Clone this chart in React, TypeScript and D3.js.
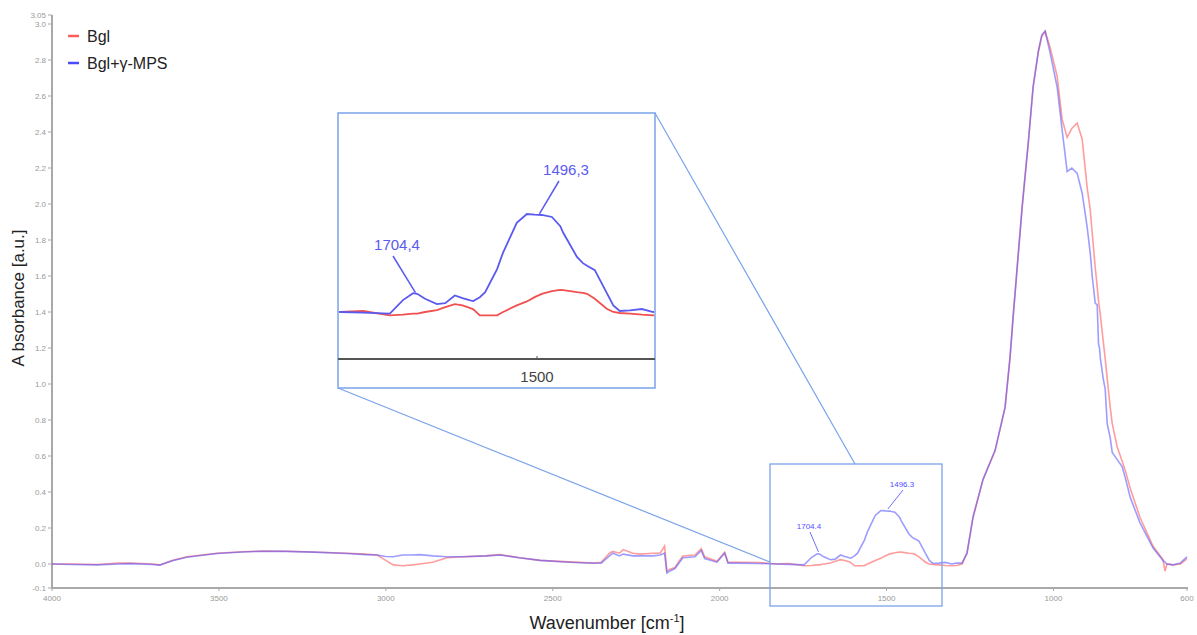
import React from "react";
import * as d3 from "d3";

// ---- data ----
const wavenumbers = [
  4000, 3940, 3865, 3800, 3766, 3700, 3677, 3640, 3596, 3506, 3430, 3368, 3300, 3218, 3116, 3060, 3026, 3000,
  2978, 2950, 2920, 2898, 2860, 2817, 2770, 2700, 2658, 2600, 2538, 2450, 2380, 2355, 2330, 2320, 2300, 2289,
  2260, 2238, 2200, 2178, 2165, 2158, 2150, 2134, 2120, 2110, 2074, 2055, 2045, 2008, 1985, 1975, 1950, 1880,
  1830, 1792, 1747, 1725, 1708, 1701, 1688, 1668, 1654, 1638, 1625, 1612, 1607, 1596, 1587, 1567, 1557, 1534,
  1517, 1504, 1492, 1475, 1461, 1456, 1433, 1423, 1416, 1403, 1383, 1372, 1361, 1344, 1324, 1305, 1290, 1274,
  1259, 1241, 1211, 1175, 1145, 1130, 1121, 1094, 1075, 1061, 1045, 1035, 1025, 1010, 989, 974, 959, 945, 929,
  914, 899, 890, 884, 875, 869, 865, 862, 860, 851, 845, 839, 830, 824, 809, 794, 785, 770, 741, 702, 672, 666,
  660, 642, 620, 606, 600,
];
const bgl = [
  0.0, 0.0, -0.003, 0.005, 0.006, 0.0, -0.005, 0.02, 0.04, 0.06, 0.068, 0.072, 0.071, 0.067, 0.06, 0.055, 0.05, 0.02,
  -0.005, -0.01, -0.005, 0.0, 0.01, 0.035, 0.04, 0.045, 0.052, 0.035, 0.02, 0.012, 0.006, 0.01, 0.06, 0.07, 0.06, 0.08,
  0.06, 0.055, 0.06, 0.06, 0.1, -0.04, -0.03, -0.02, 0.02, 0.045, 0.05, 0.085, 0.04, 0.015, 0.065, 0.01, 0.01, 0.008,
  0.0, 0.003, -0.01, -0.008, -0.005, -0.005, 0.0, 0.006, 0.015, 0.024, 0.02, 0.012, 0.008, -0.01, -0.01, -0.01, 0.0, 0.02,
  0.032, 0.045, 0.055, 0.063, 0.067, 0.066, 0.06, 0.058, 0.055, 0.04, 0.01, 0.0, -0.003, -0.005, -0.008, -0.01, -0.008, 0.0,
  0.06, 0.26, 0.47, 0.63, 0.87, 1.15, 1.37, 1.98, 2.35, 2.65, 2.85, 2.93, 2.96, 2.87, 2.71, 2.47, 2.37, 2.42, 2.45,
  2.36, 2.09, 1.97, 1.84, 1.65, 1.54, 1.46, 1.42, 1.39, 1.24, 1.14, 1.03, 0.87, 0.78, 0.65, 0.57, 0.52, 0.42, 0.26, 0.1, 0.025, -0.04,
  0.0, -0.005, 0.0, 0.02, 0.03,
];
const bglMps = [
  0.0, -0.003, -0.005, 0.0, 0.002, -0.003, -0.006, 0.018, 0.038, 0.058, 0.067, 0.071, 0.07, 0.066, 0.058, 0.052, 0.05, 0.042,
  0.04, 0.05, 0.05, 0.052, 0.045, 0.04, 0.04, 0.045, 0.05, 0.035, 0.02, 0.01, 0.004, 0.005, 0.045, 0.06, 0.045, 0.055,
  0.045, 0.045, 0.045, 0.05, 0.06, -0.05, -0.04, -0.025, 0.01, 0.035, 0.04, 0.075, 0.03, 0.01, 0.06, 0.005, 0.005, 0.003,
  0.0, -0.002, -0.005, 0.036, 0.057, 0.055, 0.04, 0.024, 0.027, 0.05, 0.042, 0.035, 0.033, 0.045, 0.06, 0.13, 0.18, 0.27,
  0.297, 0.295, 0.294, 0.288, 0.26, 0.24, 0.167, 0.148, 0.14, 0.127, 0.058, 0.02, 0.003, 0.005, 0.009, 0.0, 0.005, 0.005,
  0.06, 0.26, 0.47, 0.63, 0.87, 1.15, 1.37, 1.98, 2.35, 2.65, 2.85, 2.94, 2.96, 2.84, 2.65, 2.41, 2.18, 2.2, 2.17,
  2.06, 1.87, 1.73, 1.6, 1.45, 1.44, 1.22, 1.2, 1.15, 1.03, 0.97, 0.78, 0.7, 0.62, 0.58, 0.54, 0.48, 0.37, 0.23, 0.09, 0.02, 0.01,
  0.0, -0.005, 0.005, 0.03, 0.04,
];
const xTicks = [4000, 3500, 3000, 2500, 2000, 1500, 1000, 600];
const yTicks = [0, 0.2, 0.4, 0.6, 0.8, 1.0, 1.2, 1.4, 1.6, 1.8, 2.0, 2.2, 2.4, 2.6, 2.8, 3.0];
const yEndLabels = [
  { v: -0.1333, label: "-0.1" },
  { v: 3.05, label: "3.05" },
];
const seriesNames = ["Bgl", "Bgl+γ-MPS"];
const peakLabels = [
  { wn: 1704, main: "1704.4", inset: "1704,4" },
  { wn: 1496, main: "1496.3", inset: "1496,3" },
];
const insetTick = [1500];

export default function App() {
  const W = 1197, H = 635;
  const x = d3.scaleLinear().domain([4000, 600]).range([52, 1187]);
  const y = d3.scaleLinear().domain([-0.1333, 3.05]).range([588, 15]);

  const pts = (vals: number[]) => wavenumbers.map((w, i) => [w, vals[i]] as [number, number]);
  const mainLine = d3.line<[number, number]>().x((d) => x(d[0])).y((d) => y(d[1]));

  // inset
  const ix = d3.scaleLinear().domain([1834, 1302]).range([338, 655]);
  const iy = d3.scaleLinear().domain([-0.1424, 0.603]).range([359, 113]);
  const insetLine = d3.line<[number, number]>().x((d) => ix(d[0])).y((d) => iy(d[1]));

  const red = "#ff4d4d";
  const blue = "#4d4dff";
  const axisCol = "#a9a9a9";
  const font = "Liberation Sans, Arial, sans-serif";

  const valAt = (vals: number[], wn: number) => {
    const xs = wavenumbers.map((w) => -w);
    const i = d3.bisectLeft(xs, -wn);
    const i0 = Math.max(0, i - 1);
    const t = (wn - wavenumbers[i0]) / (wavenumbers[i] - wavenumbers[i0]);
    return vals[i0] + t * (vals[i] - vals[i0]);
  };

  const box = { x0: 770, x1: 942, y0: 464, y1: 606 };

  return (
    <svg width={W} height={H} style={{ position: "absolute", left: 0, top: 0, fontFamily: font }}>
      <rect width={W} height={H} fill="#fff" />
      {/* axes */}
      <line x1={52} x2={52} y1={15} y2={589} stroke={axisCol} strokeWidth={2} />
      <line x1={51} x2={1188} y1={588} y2={588} stroke={axisCol} strokeWidth={2} />
      {yTicks.map((t) => (
        <g key={t}>
          <line x1={48} x2={52} y1={y(t)} y2={y(t)} stroke={axisCol} />
          <text x={46} y={y(t) + 3} fontSize={8} fill="#999" textAnchor="end">
            {t.toFixed(1)}
          </text>
        </g>
      ))}
      {yEndLabels.map((e) => (
        <g key={e.label}>
          <line x1={48} x2={52} y1={y(e.v)} y2={y(e.v)} stroke={axisCol} />
          <text x={46} y={y(e.v) + 3} fontSize={8} fill="#999" textAnchor="end">
            {e.label}
          </text>
        </g>
      ))}
      {xTicks.map((t) => (
        <g key={t}>
          <line x1={x(t)} x2={x(t)} y1={588} y2={591} stroke={axisCol} />
          <text x={x(t)} y={601} fontSize={8} fill="#999" textAnchor="middle">
            {t}
          </text>
        </g>
      ))}
      <text transform="translate(24,298) rotate(-90)" fontSize={17} fill="#222" textAnchor="middle">
        A bsorbance [a.u.]
      </text>
      <text x={607} y={629} fontSize={18} fill="#222" textAnchor="middle">
        Wavenumber [cm
        <tspan dy={-7} fontSize={11}>-1</tspan>
        <tspan dy={7}>]</tspan>
      </text>

      {/* main curves */}
      <path d={mainLine(pts(bgl)) || ""} fill="none" stroke={red} strokeOpacity={0.55} strokeWidth={1.6} />
      <path d={mainLine(pts(bglMps)) || ""} fill="none" stroke={blue} strokeOpacity={0.55} strokeWidth={1.6} />

      {/* small peak labels on main */}
      {peakLabels.map((p, i) => {
        const px = x(p.wn);
        const py = y(valAt(bglMps, p.wn));
        const tx = i === 0 ? 809 : 902;
        const ty = i === 0 ? 529 : 487;
        return (
          <g key={p.main}>
            <line x1={tx + 1} y1={ty + 3} x2={px} y2={py - 2} stroke="#7070ff" strokeWidth={1} />
            <text x={tx} y={ty} fontSize={8} fill="#5050ff" textAnchor="middle">
              {p.main}
            </text>
          </g>
        );
      })}

      {/* zoom box & connectors */}
      <rect x={box.x0} y={box.y0} width={box.x1 - box.x0} height={box.y1 - box.y0} fill="none" stroke="#7aa2ea" strokeWidth={1.3} />
      <line x1={338} y1={388} x2={box.x0} y2={562} stroke="#7aa2ea" strokeWidth={1.2} />
      <line x1={655} y1={113} x2={855} y2={box.y0} stroke="#7aa2ea" strokeWidth={1.2} />

      {/* inset */}
      <defs>
        <clipPath id="insetClip">
          <rect x={339} y={114} width={315} height={273} />
        </clipPath>
      </defs>
      <rect x={338} y={113} width={317} height={275} fill="#fff" stroke="#7aa2ea" strokeWidth={1.5} />
      <g clipPath="url(#insetClip)">
        <path d={insetLine(pts(bgl)) || ""} fill="none" stroke="#f05050" strokeWidth={1.8} />
        <path d={insetLine(pts(bglMps)) || ""} fill="none" stroke="#5a5af0" strokeWidth={1.8} />
      </g>
      <line x1={338} x2={655} y1={359} y2={359} stroke="#555" strokeWidth={1.8} />
      {insetTick.map((t) => (
        <g key={t}>
          <line x1={ix(t)} x2={ix(t)} y1={356} y2={359} stroke="#555" />
          <text x={ix(t)} y={382} fontSize={15} fill="#444" textAnchor="middle">
            {t}
          </text>
        </g>
      ))}
      {peakLabels.map((p, i) => {
        const px = ix(p.wn);
        const py = iy(valAt(bglMps, p.wn));
        const tx = i === 0 ? 397 : 566;
        const ty = i === 0 ? 250 : 175;
        const lx = i === 0 ? 393 : 559;
        return (
          <g key={p.inset}>
            <line x1={lx} y1={ty + 6} x2={px} y2={py - 1} stroke="#5a5af0" strokeWidth={1.5} />
            <text x={tx} y={ty} fontSize={15} fill="#5a5af0" textAnchor="middle">
              {p.inset}
            </text>
          </g>
        );
      })}

      {/* legend */}
      {seriesNames.map((n, i) => (
        <g key={n} transform={`translate(68,${36 + i * 27})`}>
          <line x1={0} x2={11} y1={0} y2={0} stroke={i === 0 ? "#ff5c5c" : "#4a4aff"} strokeWidth={2.5} />
          <text x={19} y={6} fontSize={16} fill="#222">
            {n}
          </text>
        </g>
      ))}
    </svg>
  );
}
